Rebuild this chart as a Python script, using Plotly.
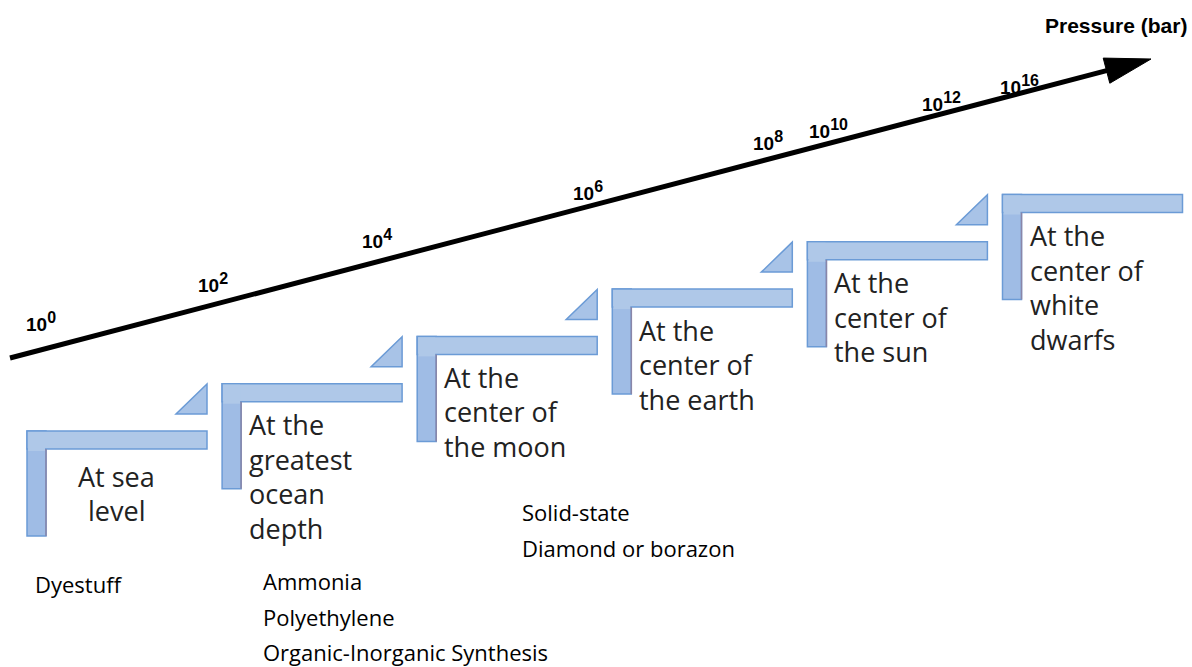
import math
import plotly.graph_objects as go

# ---------------- data ----------------
exponents = [0, 2, 4, 6, 8, 10, 12, 16]
locations = [
    ["At sea", "level"],
    ["At the", "greatest", "ocean", "depth"],
    ["At the", "center of", "the moon"],
    ["At the", "center of", "the earth"],
    ["At the", "center of", "the sun"],
    ["At the", "center of", "white", "dwarfs"],
]
compounds = [
    ["Dyestuff"],
    ["Ammonia", "Polyethylene", "Organic-Inorganic Synthesis"],
    ["Solid-state", "Diamond or borazon"],
    [], [], [],
]
axis_title = "Pressure (bar)"

# ---------------- layout (pixel space) ----------------
W, H = 1192, 667
tick_xy = [(41, 322), (213, 283), (377, 239), (588, 191), (768, 141),
           (828, 129), (941, 102), (1019, 85)]
arrow_start = (10, 358)
arrow_tip = (1151, 59)
compound_pos = [(33, 584), (261, 581), (520, 512), None, None, None]

STEP_DX, STEP_DY = 195.1, -47.3
X0, Y0 = 27, 431
BAR_W, BAR_T, VERT_W, VERT_H = 180, 18, 19, 105

FILL_TOP = "#afc8e8"
FILL_VERT = "#9fbce5"
EDGE = "#6b9bd6"
TEXT_FONT = "Open Sans"

fig = go.Figure()
fig.add_trace(go.Scatter(x=[0, W], y=[0, H], mode="markers",
                         marker=dict(opacity=0), hoverinfo="skip", showlegend=False))

shapes = []
annotations = []

# arrow line
dx = arrow_tip[0] - arrow_start[0]
dy = arrow_tip[1] - arrow_start[1]
L = math.hypot(dx, dy)
ux, uy = dx / L, dy / L
nx, ny = -uy, ux
head_len, head_half = 46, 13
bx, by = arrow_tip[0] - head_len * ux, arrow_tip[1] - head_len * uy
shapes.append(dict(type="line", xref="x", yref="y",
                   x0=arrow_start[0], y0=arrow_start[1], x1=bx + 4 * ux, y1=by + 4 * uy,
                   line=dict(color="black", width=5)))
p1 = (bx + head_half * nx, by + head_half * ny)
p2 = (bx - head_half * nx, by - head_half * ny)
shapes.append(dict(type="path", xref="x", yref="y",
                   path=f"M {arrow_tip[0]},{arrow_tip[1]} L {p1[0]},{p1[1]} L {p2[0]},{p2[1]} Z",
                   fillcolor="black", line=dict(color="black", width=1)))

# tick labels
for e, (tx, ty) in zip(exponents, tick_xy):
    annotations.append(dict(x=tx, y=ty, xref="x", yref="y", showarrow=False,
                            text=f"<b>10<sup><span style='font-size:16px'>{e}</span></sup></b>",
                            font=dict(family="Liberation Sans", size=19, color="black"),
                            xanchor="center", yanchor="middle"))
annotations.append(dict(x=1189, y=25, xref="x", yref="y", showarrow=False,
                        text=f"<b>{axis_title}</b>",
                        font=dict(family="Liberation Sans", size=21, color="black"),
                        xanchor="right", yanchor="middle"))

# steps
for i, lines in enumerate(locations):
    x0 = X0 + STEP_DX * i
    y0 = Y0 + STEP_DY * i
    shapes.append(dict(type="rect", xref="x", yref="y",
                       x0=x0, x1=x0 + VERT_W, y0=y0, y1=y0 + VERT_H,
                       fillcolor=FILL_VERT, line=dict(color=EDGE, width=1.5)))
    shapes.append(dict(type="rect", xref="x", yref="y",
                       x0=x0, x1=x0 + BAR_W, y0=y0, y1=y0 + BAR_T,
                       fillcolor=FILL_TOP, line=dict(color=EDGE, width=1.5)))
    shapes.append(dict(type="rect", xref="x", yref="y",
                       x0=x0 + 1, x1=x0 + VERT_W - 1, y0=y0 + 1, y1=y0 + BAR_T + 2,
                       fillcolor=FILL_TOP, line=dict(width=0)))
    shapes.append(dict(type="line", xref="x", yref="y",
                       x0=x0 + VERT_W, x1=x0 + VERT_W, y0=y0 + BAR_T, y1=y0 + VERT_H,
                       line=dict(color="#8a86a8", width=1.5)))
    if i < len(locations) - 1:
        rx = x0 + BAR_W
        shapes.append(dict(type="path", xref="x", yref="y",
                           path=f"M {rx - 31},{y0 - 17} L {rx},{y0 - 17} L {rx},{y0 - 47} Z",
                           fillcolor="#a8c3e7", line=dict(color=EDGE, width=1.5)))
    if i == 0:
        tx, anchor = x0 + 89, "center"
        ty = y0 + 45
    else:
        tx, anchor = x0 + 25, "left"
        ty = y0 + 41
    for j, t in enumerate(lines):
        annotations.append(dict(x=tx, y=ty + 34.5 * j, xref="x", yref="y", showarrow=False,
                                text=t, font=dict(family=TEXT_FONT, size=27, color="#222222"),
                                xanchor=anchor, yanchor="middle"))
    if compound_pos[i] is not None:
        cx, cy = compound_pos[i]
        for j, t in enumerate(compounds[i]):
            annotations.append(dict(x=cx, y=cy + 35.5 * j, xref="x", yref="y", showarrow=False,
                                    text=t, font=dict(family=TEXT_FONT, size=22, color="black"),
                                    xanchor="left", yanchor="middle"))

fig.update_layout(
    width=W, height=H, margin=dict(l=0, r=0, t=0, b=0),
    plot_bgcolor="white", paper_bgcolor="white",
    xaxis=dict(range=[0, W], visible=False, fixedrange=True),
    yaxis=dict(range=[H, 0], visible=False, fixedrange=True),
    shapes=shapes, annotations=annotations, showlegend=False,
)
fig.write_html("out.html", config={"displayModeBar": False},
               post_script="document.body.style.margin='0';")
